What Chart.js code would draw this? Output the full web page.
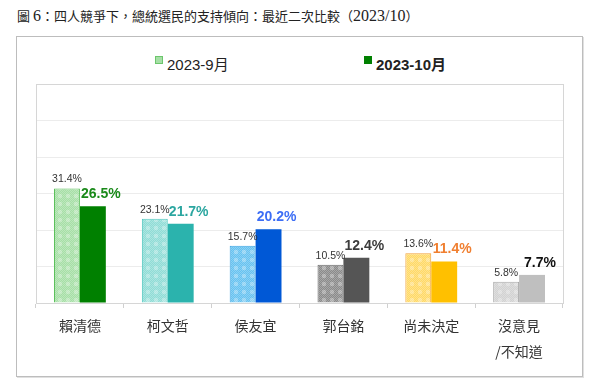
<!DOCTYPE html>
<html>
<head>
<meta charset="utf-8">
<script src="https://cdn.jsdelivr.net/npm/chart.js@4"></script>
<style>
  html, body { margin: 0; padding: 0; background: #fff; }
  #wrap { position: relative; width: 600px; height: 383px; overflow: hidden; }
  #title { position: absolute; left: 17px; top: 6px; font: 13px "Noto Sans CJK TC", serif; color: #222; white-space: nowrap; }
  #title .d { font-family: "Liberation Serif", serif; font-size: 16px; }
  #frame { position: absolute; left: 16px; top: 36px; width: 565px; height: 339px; border: 1px solid #bdbdbd; box-shadow: 1px 1px 0 #e0e0e0; }
  .leg { position: absolute; top: 55px; font: 15px "Liberation Sans", "Noto Sans CJK TC", sans-serif; color: #222; white-space: nowrap; line-height: 20px; }
  .leg i { display: inline-block; width: 8px; height: 8px; margin-right: 4px; vertical-align: 6px; box-sizing: border-box; }
  canvas { position: absolute; left: 0; top: 0; }
</style>
</head>
<body>
<div id="wrap">
  <div id="frame"></div>
  <div id="title"></div>
  <div class="leg" id="leg1" style="left:155px;"><i style="background:#a6dfa6;border:1px solid #6cc66c;"></i><span></span></div>
  <div class="leg" id="leg2" style="left:364px;font-weight:bold;"><i style="background:#008000;"></i><span></span></div>
  <canvas id="c" width="600" height="383"></canvas>
</div>
<script>
const titleText = '圖 6：四人競爭下，總統選民的支持傾向：最近二次比較（2023/10）';
const categories = [['賴清德'], ['柯文哲'], ['侯友宜'], ['郭台銘'], ['尚未決定'], ['沒意見', '/不知道']];
const seriesNames = ['2023-9月', '2023-10月'];
const sepValues = [31.4, 23.1, 15.7, 10.5, 13.6, 5.8];
const octValues = [26.5, 21.7, 20.2, 12.4, 11.4, 7.7];
const yTicks = [0, 10, 20, 30, 40, 50, 60];

const sepFill = ['#a6dfa6', '#8fdcd6', '#66c2f0', '#8a8a8a', '#ffd966', '#d2d2d2'];
const sepBorder = ['#5cc05c', '#4cc6be', '#3aa2e2', '#6e6e6e', '#f2a23a', '#a8a8a8'];
const octFill = ['#008000', '#2bb3ad', '#0058d6', '#555555', '#ffc000', '#bfbfbf'];
const octLabelColor = ['#1a8a1a', '#2ba6a0', '#3d6ef5', '#3c3c3c', '#f07f30', '#111111'];

// title: latin digits rendered in a serif face, CJK in the CJK face
const titleEl = document.getElementById('title');
titleText.split(/([0-9\/]+)/).forEach(part => {
  if (!part) return;
  const s = document.createElement('span');
  if (/^[0-9\/]+$/.test(part)) s.className = 'd';
  s.textContent = part;
  titleEl.appendChild(s);
});
document.querySelector('#leg1 span').textContent = seriesNames[0];
document.querySelector('#leg2 span').textContent = seriesNames[1];

function makePattern(base) {
  const p = document.createElement('canvas');
  p.width = 8; p.height = 8;
  const g = p.getContext('2d');
  g.fillStyle = base;
  g.fillRect(0, 0, 8, 8);
  g.fillStyle = 'rgba(255,255,255,0.25)';
  for (let y = 0; y < 8; y++) for (let x = 0; x < 8; x++) if ((x + y) % 2 === 0) g.fillRect(x, y, 1, 1);
  g.fillStyle = 'rgba(255,255,255,0.3)';
  g.beginPath(); g.arc(4, 4, 2.2, 0, Math.PI * 2); g.fill();
  return g.createPattern(p, 'repeat');
}
const ctx = document.getElementById('c').getContext('2d');
const sepPatterns = sepFill.map(makePattern);

const frameBox = {
  id: 'frameBox',
  afterDraw(chart) {
    const a = chart.chartArea, c = chart.ctx;
    c.save();
    c.strokeStyle = '#d6d6d6';
    c.lineWidth = 1;
    c.strokeRect(Math.round(a.left) + 0.5, Math.round(a.top) + 0.5, Math.round(a.right - a.left), Math.round(a.bottom - a.top));
    c.restore();
  }
};

const valueLabels = {
  id: 'valueLabels',
  afterDatasetsDraw(chart) {
    const c = chart.ctx;
    c.save();
    c.textAlign = 'center';
    c.textBaseline = 'middle';
    chart.getDatasetMeta(0).data.forEach((bar, i) => {
      c.font = '10.5px "Liberation Sans", Arial, sans-serif';
      c.fillStyle = '#333';
      c.fillText(sepValues[i].toFixed(1) + '%', bar.x, bar.y - 9);
    });
    chart.getDatasetMeta(1).data.forEach((bar, i) => {
      c.font = 'bold 14px "Liberation Sans", Arial, sans-serif';
      c.fillStyle = octLabelColor[i];
      c.fillText(octValues[i].toFixed(1) + '%', bar.x + 8, bar.y - 12);
    });
    c.restore();
  }
};

new Chart(ctx, {
  type: 'bar',
  data: {
    labels: categories,
    datasets: [
      { label: seriesNames[0], data: sepValues, backgroundColor: sepPatterns, borderColor: sepBorder, borderWidth: 1, categoryPercentage: 0.59, barPercentage: 1 },
      { label: seriesNames[1], data: octValues, backgroundColor: octFill, borderColor: octFill, borderWidth: 0, categoryPercentage: 0.59, barPercentage: 1 }
    ]
  },
  options: {
    responsive: false,
    animation: false,
    devicePixelRatio: 1,
    layout: { padding: { left: 36, right: 37, top: 84, bottom: 0 } },
    plugins: { legend: { display: false }, tooltip: { enabled: false }, title: { display: false } },
    scales: {
      x: {
        afterFit(s) { s.height = 80; },
        grid: { drawOnChartArea: false, drawTicks: true, tickLength: 5, color: '#d0d0d0' },
        border: { color: '#cfcfcf' },
        ticks: { color: '#333', padding: 5, font: { size: 14, family: '"Noto Sans CJK TC", sans-serif', lineHeight: 1.85 }, maxRotation: 0, autoSkip: false }
      },
      y: {
        min: yTicks[0], max: yTicks[yTicks.length - 1],
        afterFit(s) { s.width = 0; },
        afterBuildTicks(s) { s.ticks = yTicks.map(v => ({ value: v })); },
        ticks: { display: false },
        grid: { color: '#ececec', drawTicks: false },
        border: { color: '#d6d6d6' }
      }
    }
  },
  plugins: [frameBox, valueLabels]
});
</script>
</body>
</html>
